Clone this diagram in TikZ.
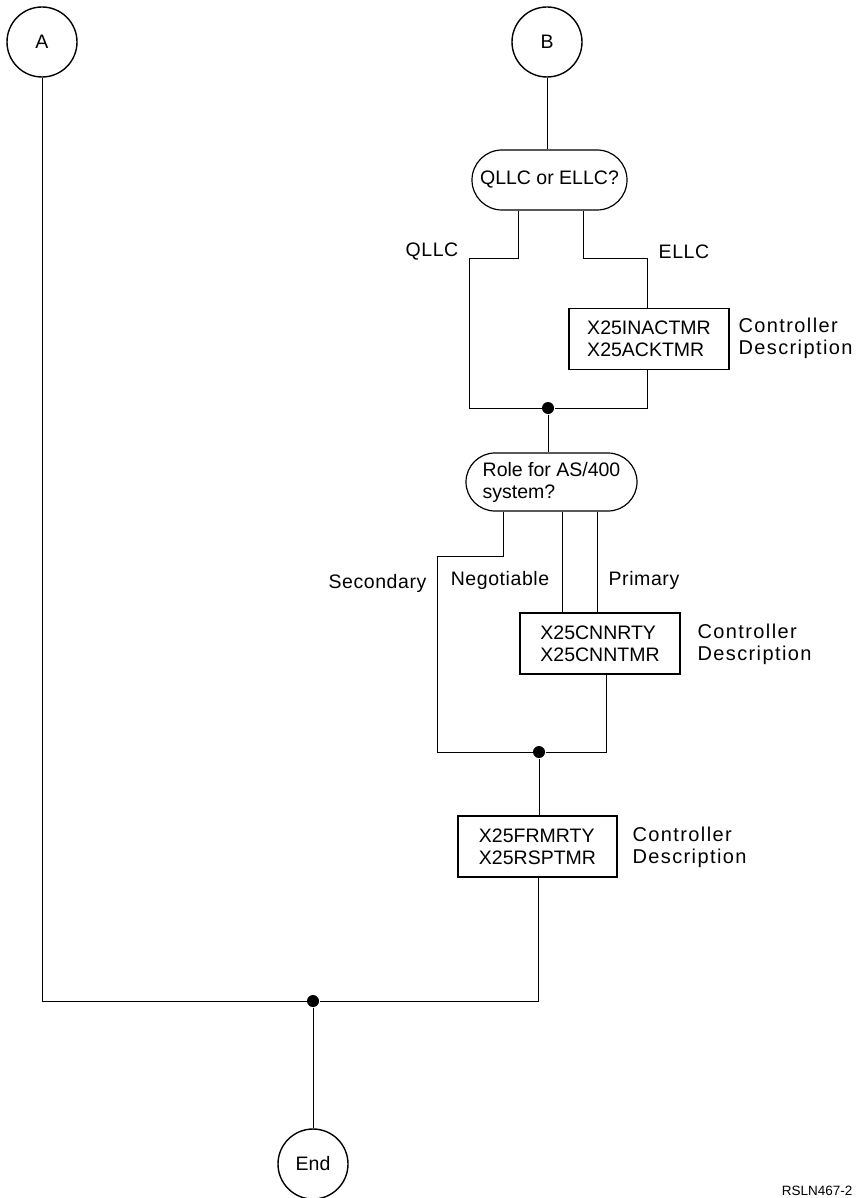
\documentclass[tikz,border=0pt]{standalone}
\usepackage{fontspec}
\setmainfont{Liberation Sans}
\newfontfamily\spacedfont[LetterSpace=3]{Liberation Sans}
\newfontfamily\widefont[LetterSpace=7]{Liberation Sans}
\usetikzlibrary{shapes.misc}
\begin{document}
\begin{tikzpicture}[x=1pt,y=-1pt,
  line width=1pt,
  every node/.style={font=\fontsize{19.5}{22}\selectfont, inner sep=0pt},
  connector/.style={circle, draw, line width=1.4pt, minimum size=70pt},
  decision/.style={rounded rectangle, draw, line width=1.2pt, align=left},
  parambox/.style={rectangle, draw, line width=1.2pt, align=left, minimum width=160pt, minimum height=61pt},
  note/.style={anchor=west, align=left, font=\widefont\fontsize{20}{22}\selectfont},
  branch/.style={anchor=center, font=\spacedfont\fontsize{19.5}{22}\selectfont},
  joint/.style={circle, fill, minimum size=12pt},
  flow/.style={line width=1pt}]
\useasboundingbox (0,0) rectangle (858,1198);

% connectors
\node[connector] (A) at (42,42) {A};
\node[connector] (B) at (547,42) {B};
\node[connector] (E) at (313,1164) {End};

% first decision and ELLC parameters
\node[decision, minimum width=155pt, minimum height=60pt] (d1) at (549.5,180) {QLLC or ELLC?};
\node[parambox] (p1) at (649,339) {X25INACTMR\\X25ACKTMR};
\node[note] (n1) at (738,338) {Controller\\Description};
\node[branch] (lq) at (432,252) {QLLC};
\node[branch] (le) at (684,252) {ELLC};
\node[joint] (j1) at (548,408) {};

% role decision and primary parameters
\node[decision, minimum width=171pt, minimum height=58pt] (d2) at (551.5,482) {Role for AS/400\\system?};
\node[parambox] (p2) at (600,643.5) {X25CNNRTY\\X25CNNTMR};
\node[note] (n2) at (697,644) {Controller\\Description};
\node[branch] (ls) at (377.5,583) {Secondary};
\node[branch] (ln) at (500,580) {Negotiable};
\node[branch] (lp) at (644,580) {Primary};
\node[joint] (j2) at (539,752) {};

% common parameters
\node[parambox, minimum width=159pt] (p3) at (537.5,846.5) {X25FRMRTY\\X25RSPTMR};
\node[note] (n3) at (632,847) {Controller\\Description};
\node[joint] (j3) at (313,1001) {};

\node[anchor=east, font=\fontsize{13.5}{16}\selectfont] (fig) at (853,1191) {RSLN467-2};

% B to first decision
\draw[flow] (B.south) -- (B.south |- d1.north);
% QLLC branch
\draw[flow] (d1.south -| 518,0) -- (518,258) -- (469,258) -- (469,408) -- (j1);
% ELLC branch
\draw[flow] (d1.south -| 583,0) -- (583,258) -- (647,258) -- (p1.north -| 647,0);
\draw[flow] (p1.south -| 647,0) -- (647,408) -- (j1);
% into role decision
\draw[flow] (j1) -- (j1 |- d2.north);
% secondary branch
\draw[flow] (d2.south -| 503,0) -- (503,556) -- (437,556) -- (437,752) -- (j2);
% negotiable and primary branches
\draw[flow] (d2.south -| 562,0) -- (p2.north -| 562,0);
\draw[flow] (d2.south -| 597,0) -- (p2.north -| 597,0);
\draw[flow] (p2.south -| 606,0) -- (606,752) -- (j2);
% common parameters
\draw[flow] (j2) -- (j2 |- p3.north);
\draw[flow] (p3.south -| 538,0) -- (538,1001) -- (j3);
% A path
\draw[flow] (A.south) -- (42,1001) -- (j3);
% to End
\draw[flow] (j3) -- (E.north);
\end{tikzpicture}
\end{document}
